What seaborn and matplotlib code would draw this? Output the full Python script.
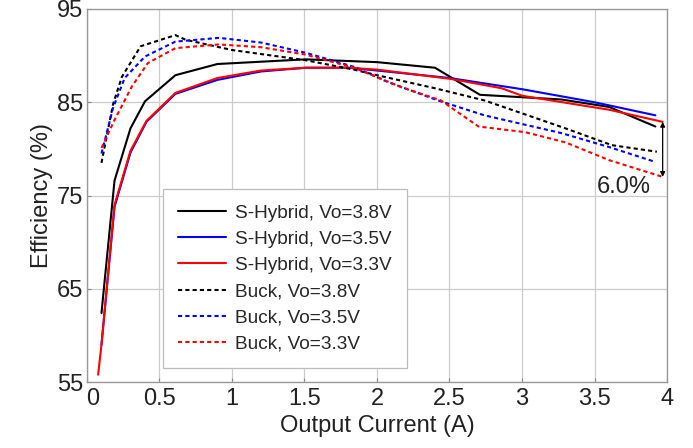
import matplotlib
matplotlib.use("Agg")
import matplotlib.pyplot as plt
import matplotlib.ticker as ticker
from matplotlib.transforms import ScaledTranslation
import seaborn as sns

# -- Data -------------------------------------------------------------------
hyb38_x = [0.10, 0.19, 0.30, 0.40, 0.61, 0.90, 1.51, 2.00, 2.40, 2.71, 3.27, 3.60, 3.92]
hyb38_y = [62.4, 76.6, 82.2, 85.1, 87.9, 89.1, 89.6, 89.3, 88.7, 85.8, 85.3, 84.5, 82.4]

hyb35_x = [0.10, 0.19, 0.30, 0.41, 0.61, 0.90, 1.20, 1.51, 1.80, 2.00, 2.50, 3.00, 3.50, 3.92]
hyb35_y = [59.0, 73.8, 79.6, 82.9, 85.9, 87.4, 88.3, 88.7, 88.7, 88.4, 87.6, 86.4, 85.0, 83.6]

hyb33_x = [0.077, 0.10, 0.19, 0.30, 0.41, 0.61, 0.90, 1.20, 1.51, 1.80, 2.00, 2.51, 2.86, 3.00, 3.60, 3.97]
hyb33_y = [55.8, 59.0, 74.0, 79.8, 83.0, 86.0, 87.6, 88.4, 88.7, 88.7, 88.5, 87.5, 86.5, 85.7, 84.2, 82.9]

buck38_x = [0.10, 0.18, 0.24, 0.37, 0.61, 0.68, 1.00, 1.51, 1.84, 2.00, 2.40, 2.74, 3.04, 3.30, 3.62, 3.93]
buck38_y = [78.5, 84.8, 87.7, 91.0, 92.2, 91.7, 90.6, 89.5, 88.5, 87.9, 86.5, 85.2, 83.6, 82.2, 80.4, 79.7]

buck35_x = [0.10, 0.18, 0.26, 0.40, 0.61, 0.91, 1.20, 1.51, 1.84, 2.07, 2.42, 2.74, 3.27, 3.60, 3.92]
buck35_y = [79.5, 84.4, 87.6, 89.9, 91.5, 91.9, 91.4, 90.3, 88.8, 87.2, 85.2, 83.6, 81.7, 80.2, 78.6]

buck33_x = [0.10, 0.19, 0.31, 0.42, 0.61, 0.91, 1.20, 1.51, 1.84, 2.00, 2.17, 2.44, 2.70, 3.02, 3.30, 3.60, 3.97]
buck33_y = [80.1, 83.1, 86.7, 89.2, 90.8, 91.2, 90.9, 90.1, 88.7, 87.7, 86.6, 85.2, 82.4, 81.8, 80.7, 78.8, 77.0]

labels = ["S-Hybrid, Vo=3.8V", "S-Hybrid, Vo=3.5V", "S-Hybrid, Vo=3.3V",
          "Buck, Vo=3.8V", "Buck, Vo=3.5V", "Buck, Vo=3.3V"]

x_ticks = [0, 0.5, 1, 1.5, 2, 2.5, 3, 3.5, 4]
y_ticks = [55, 65, 75, 85, 95]

gap_x = 3.97
gap_top, gap_bottom = 82.9, 77.0
gap_label = "6.0%"

# -- Style ------------------------------------------------------------------
sns.set_theme(style="whitegrid")
plt.rcParams["font.family"] = ["Liberation Sans", "DejaVu Sans"]

DOT = (0, (2, 1.5))
series = [
    (hyb38_x, hyb38_y, "black", "-"),
    (hyb35_x, hyb35_y, "#0000ff", "-"),
    (hyb33_x, hyb33_y, "#ff0000", "-"),
    (buck38_x, buck38_y, "black", DOT),
    (buck35_x, buck35_y, "#0000ff", DOT),
    (buck33_x, buck33_y, "#ff0000", DOT),
]

fig, ax = plt.subplots(figsize=(6.93, 4.48), dpi=100)
fig.subplots_adjust(left=0.1255, right=0.9625, top=0.980, bottom=0.147)

for (xs, ys, color, ls), lab in zip(series, labels):
    sns.lineplot(x=xs, y=ys, ax=ax, color=color, linestyle=ls, linewidth=1.5,
                 sort=False, label=lab)

# 6.0% gap marker
ax.annotate("", xy=(gap_x, gap_bottom), xytext=(gap_x, gap_top),
            arrowprops=dict(arrowstyle="<|-|>", color="black", lw=0.9,
                            mutation_scale=7, shrinkA=0, shrinkB=0))
ax.text(gap_x - 0.27, gap_bottom - 1.1, gap_label, fontsize=17,
        ha="center", va="center", color="#222222")

ax.set_xlim(0, 4)
ax.set_ylim(55, 95)
ax.set_xticks(x_ticks)
ax.set_yticks(y_ticks)
ax.xaxis.set_major_formatter(ticker.FormatStrFormatter("%g"))
ax.tick_params(axis="both", labelsize=17, colors="#222222", direction="in",
               length=3, width=0.8, color="#888888")
ax.tick_params(axis="x", pad=4.5)
ax.tick_params(axis="y", pad=2.5)
ax.tick_params(axis="both", which="both", bottom=True, left=True)
ax.grid(True, color="#cccccc", linewidth=0.9)
for sp in ax.spines.values():
    sp.set_color("#999999")
    sp.set_linewidth(1.0)

# nudge the "0" label right so it clears the "55" label (as in the original)
fig.canvas.draw()
first = ax.get_xticklabels()[0]
first.set_transform(first.get_transform() + ScaledTranslation(4 / 72, 0, fig.dpi_scale_trans))

ax.set_xlabel("Output Current (A)", fontsize=17, color="#222222", labelpad=3)
ax.set_ylabel("Efficiency (%)", fontsize=17, color="#222222", labelpad=3)

leg = ax.legend(loc="lower left", bbox_to_anchor=(0.131, 0.0375), fontsize=13.7,
                handlelength=2.5, labelspacing=0.47, borderpad=0.8,
                borderaxespad=0, fancybox=False, framealpha=1,
                edgecolor="#bbbbbb", handletextpad=0.5)
leg.get_frame().set_linewidth(0.9)

fig.savefig("out.png", dpi=100)
